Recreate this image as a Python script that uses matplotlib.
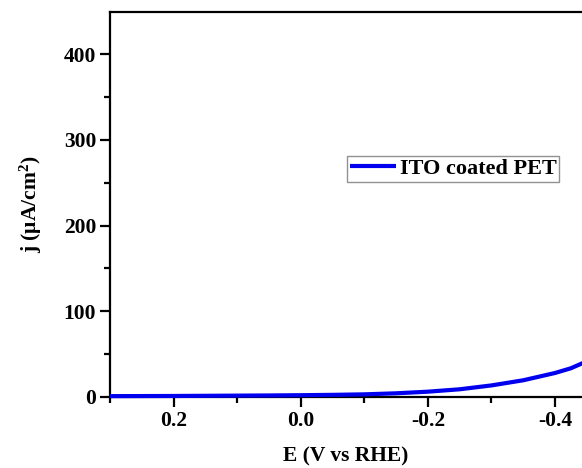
import matplotlib
matplotlib.use("Agg")
import matplotlib.pyplot as plt
from matplotlib.ticker import MultipleLocator

# Linear sweep voltammetry of ITO coated PET
potential = [0.30, 0.25, 0.20, 0.15, 0.10, 0.05, 0.00, -0.05, -0.10, -0.15,
             -0.20, -0.25, -0.30, -0.35, -0.40, -0.425, -0.445]
current = [1.0, 1.1, 1.2, 1.4, 1.6, 1.8, 2.1, 2.5, 3.1, 4.3,
           6.2, 9.0, 13.5, 19.5, 28.0, 33.5, 40.0]
series_label = "ITO coated PET"
x_label = "E (V vs RHE)"
y_label = r"j (μA/cm$^{\mathbf{2}}$)"

plt.rcParams["font.family"] = ["Liberation Serif", "DejaVu Serif"]
plt.rcParams["font.weight"] = "bold"
plt.rcParams["mathtext.fontset"] = "custom"
plt.rcParams["mathtext.rm"] = "Liberation Serif:bold"
plt.rcParams["mathtext.bf"] = "Liberation Serif:bold"
plt.rcParams["mathtext.it"] = "Liberation Serif:bold"

fig = plt.figure(figsize=(5.82, 4.68), dpi=100)
ax = fig.add_axes([110 / 582, 1 - 397 / 468, 1 - 110 / 582, (397 - 12) / 468])

ax.plot(potential, current, color="#0000ee", lw=3.0, label=series_label,
        solid_capstyle="butt", zorder=3, clip_on=False)

ax.set_xlim(0.30, -0.4425)
ax.set_ylim(0, 449)

ax.xaxis.set_major_locator(MultipleLocator(0.2))
ax.xaxis.set_minor_locator(MultipleLocator(0.1))
ax.yaxis.set_major_locator(MultipleLocator(100))
ax.yaxis.set_minor_locator(MultipleLocator(50))
ax.set_xticks([0.2, 0.0, -0.2, -0.4])
ax.set_xticklabels(["0.2", "0.0", "-0.2", "-0.4"])

for s in ["left", "bottom", "top"]:
    ax.spines[s].set_linewidth(1.6)
ax.spines["right"].set_visible(False)

ax.tick_params(which="major", direction="out", length=7, width=1.6,
               labelsize=15.5, pad=3, top=False, right=False)
ax.tick_params(which="minor", direction="out", length=4.5, width=1.6,
               top=False, right=False)
for lab in ax.get_xticklabels() + ax.get_yticklabels():
    lab.set_fontweight("bold")

ax.set_xlabel(x_label, fontsize=15.5, fontweight="bold", labelpad=11)
ax.set_ylabel(y_label, fontsize=15.5, fontweight="bold", labelpad=14)

leg = ax.legend(loc="upper left", bbox_to_anchor=((347 - 110) / 472, (397 - 156) / 385),
                frameon=True, fancybox=False, handlelength=2.1, handletextpad=0.15,
                borderpad=0.12, borderaxespad=0,
                prop={"family": "Liberation Serif", "weight": "bold", "size": 16})
leg.get_frame().set_edgecolor("#777777")
leg.get_frame().set_linewidth(1.0)

fig.savefig("out.png", dpi=100)
